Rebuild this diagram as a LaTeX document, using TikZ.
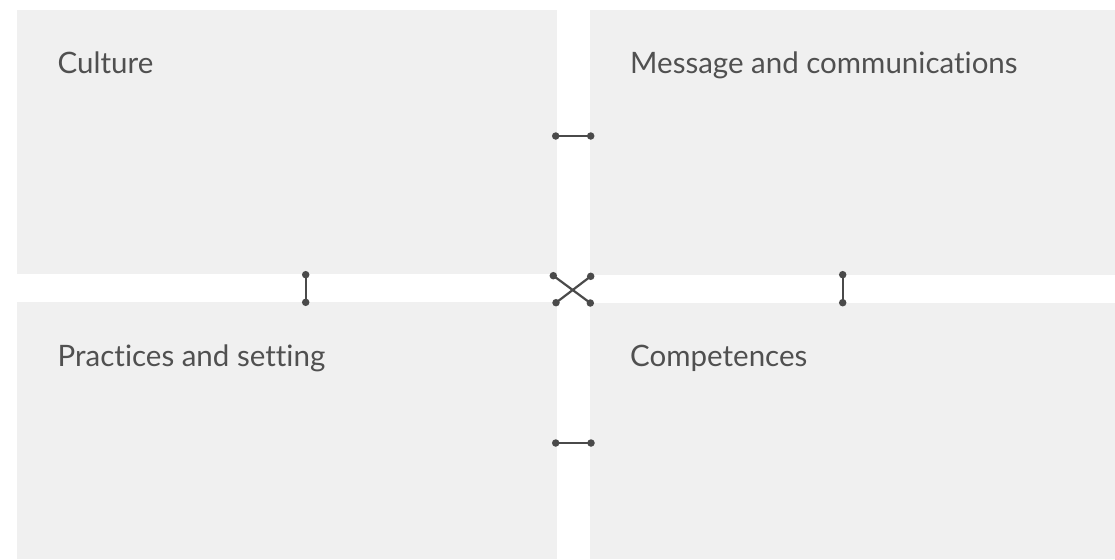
\documentclass[tikz,border=0pt]{standalone}
\usepackage{fontspec}
\setmainfont{Lato}[Ligatures={NoCommon,NoRare}]
\definecolor{boxfill}{HTML}{F0F0F0}
\definecolor{linkcol}{HTML}{4A4A4A}
\definecolor{txtcol}{HTML}{505050}
\tikzset{
  panel/.style={fill=boxfill, draw=none},
  lbl/.style={anchor=base west, inner sep=0pt, text=txtcol, font=\fontsize{29.5}{34}\selectfont},
  dot/.style={circle, fill=linkcol, inner sep=0pt, minimum size=7.5pt},
  link/.style={draw=linkcol, line width=2.2pt}
}
\begin{document}
\begin{tikzpicture}[x=1pt,y=-1pt]
\useasboundingbox (0,0) rectangle (1115,559);
% panels
\fill[panel] (17,10) rectangle (557,274);
\fill[panel] (589.5,10.5) rectangle (1115,275);
\fill[panel] (17,302) rectangle (557,559);
\fill[panel] (589.5,302.5) rectangle (1115,559);
% labels
\node[lbl] (culture) at (57.5,73.5) {Culture};
\node[lbl] (message) at (630,74) {Message and communications};
\node[lbl] (practices) at (57.5,366.5) {Practices and setting};
\node[lbl] (competences) at (630,366.5) {Competences};
% dots
\node[dot] (t1) at (555.7,136) {};
\node[dot] (t2) at (590.7,136) {};
\node[dot] (b1) at (555.7,443) {};
\node[dot] (b2) at (591,443) {};
\node[dot] (l1) at (305.7,274.7) {};
\node[dot] (l2) at (305.7,302.3) {};
\node[dot] (r1) at (842.7,274.7) {};
\node[dot] (r2) at (842.7,302.7) {};
\node[dot] (x1) at (553.3,275.7) {};
\node[dot] (x2) at (590.7,276.3) {};
\node[dot] (x3) at (556,302.7) {};
\node[dot] (x4) at (590.3,303) {};
% links
\draw[link] (t1.center) -- (t2.center);
\draw[link] (b1.center) -- (b2.center);
\draw[link] (l1.center) -- (l2.center);
\draw[link] (r1.center) -- (r2.center);
\draw[link] (x1.center) -- (x4.center);
\draw[link] (x2.center) -- (x3.center);
\end{tikzpicture}
\end{document}
